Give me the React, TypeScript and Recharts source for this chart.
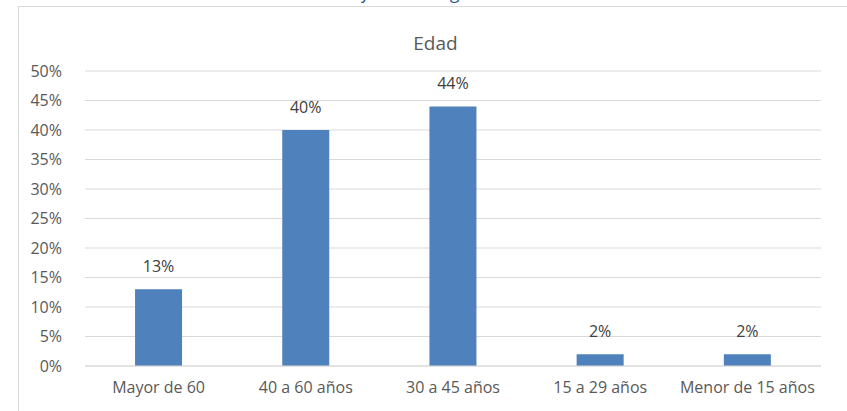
import { Bar, BarChart, CartesianGrid, LabelList, XAxis, YAxis } from 'recharts'

const CATEGORIES = ['Mayor de 60', '40 a 60 años', '30 a 45 años', '15 a 29 años', 'Menor de 15 años']
const VALUES = [13, 40, 44, 2, 2]
const Y_TICKS = [0, 5, 10, 15, 20, 25, 30, 35, 40, 45, 50]

const FONT = '"Open Sans", "Noto Sans", sans-serif'
const TEXT = '#595959'

const chartData = CATEGORIES.map((name, i) => ({ name, value: VALUES[i] }))

export default function App() {
  return (
    <div style={{ position: 'fixed', left: 0, top: 0, width: 847, height: 411, background: '#fff', overflow: 'hidden', fontFamily: FONT }}>
      {/* caption of the figure, mostly cut off by the top edge */}
      <div
        style={{
          position: 'absolute', left: 0, width: 858, top: -20, textAlign: 'center',
          color: '#2E5597', fontStyle: 'italic', fontSize: 19, lineHeight: '24px',
        }}
      >
        Gráfico 2. Rango etario
      </div>
      <div style={{ position: 'absolute', left: 18, top: 6, width: 840, height: 420, border: '1px solid #d9d9d9' }} />
      <div style={{ position: 'absolute', left: 18, width: 835, top: 30, textAlign: 'center', color: TEXT, fontSize: 19 }}>
        Edad
      </div>
      <div style={{ position: 'absolute', left: 0, top: 0 }}>
        <BarChart width={847} height={411} data={chartData} margin={{ top: 71, right: 26, bottom: 15, left: 0 }} barCategoryGap="34%">
          <CartesianGrid vertical={false} stroke="#d9d9d9" strokeWidth={1} />
          <XAxis
            dataKey="name"
            height={30}
            axisLine={{ stroke: '#d9d9d9' }}
            tickLine={false}
            tick={{ fill: TEXT, fontSize: 16, fontFamily: FONT }}
            tickMargin={10}
            interval={0}
          />
          <YAxis
            width={85}
            domain={[0, 50]}
            ticks={Y_TICKS}
            axisLine={false}
            tickLine={false}
            tickMargin={17}
            tick={{ fill: TEXT, fontSize: 16, fontFamily: FONT }}
            tickFormatter={(v: number) => `${v}%`}
          />
          <Bar dataKey="value" fill="#4F81BD" isAnimationActive={false}>
            <LabelList
              dataKey="value"
              position="top"
              offset={17}
              formatter={(v: any) => `${v}%`}
              style={{ fill: '#404040', fontSize: 16, fontFamily: FONT }}
            />
          </Bar>
        </BarChart>
      </div>
    </div>
  )
}
